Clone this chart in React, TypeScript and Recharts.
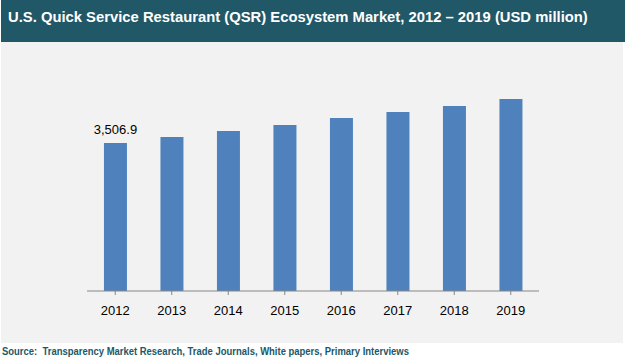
import React from 'react';
import { BarChart, Bar, XAxis, YAxis, LabelList } from 'recharts';

// values (USD million)
const years = ['2012', '2013', '2014', '2015', '2016', '2017', '2018', '2019'];
const marketSize = [3506.9, 3650, 3790, 3935, 4100, 4240, 4385, 4550];
const valueLabels = ['3,506.9', '', '', '', '', '', '', ''];

const data = years.map((year, i) => ({ year, value: marketSize[i], label: valueLabels[i] }));

const TITLE = 'U.S. Quick Service Restaurant (QSR) Ecosystem Market, 2012 \u2013 2019 (USD million)';
const SOURCE = 'Source:\u00a0 Transparency Market Research, Trade Journals, White papers, Primary Interviews';

const App: React.FC = () => {
  React.useEffect(() => {
    document.body.style.margin = '0';
  }, []);

  return (
    <div style={{ position: 'relative', width: 625, height: 361, background: '#fff', overflow: 'hidden', fontFamily: 'Arial, "Liberation Sans", sans-serif' }}>
      {/* title bar */}
      <div style={{ position: 'absolute', left: 1, top: 0, width: 624, height: 42, background: '#215867', color: '#fff', fontWeight: 700, fontSize: 14.8, lineHeight: '34px', paddingLeft: 7, boxSizing: 'border-box', whiteSpace: 'nowrap' }}>
        {TITLE}
      </div>

      {/* chart area */}
      <div style={{ position: 'absolute', left: 1, top: 42, width: 622, height: 301, background: '#f2f2f2' }}>
        <BarChart width={622} height={301} data={data} margin={{ top: 38, right: 84, bottom: 22, left: 86 }} barCategoryGap="30%">
          <XAxis
            dataKey="year"
            height={30}
            axisLine={{ stroke: '#868686' }}
            tickLine={{ stroke: '#868686' }}
            tickSize={4}
            tickMargin={11}
            interval={0}
            tick={{ fill: '#000', fontSize: 13 }}
          />
          <YAxis hide domain={[0, 5000]} />
          <Bar dataKey="value" fill="#4f81bd" isAnimationActive={false}>
            <LabelList dataKey="label" position="top" offset={9} fill="#000" fontSize={13} />
          </Bar>
        </BarChart>
      </div>

      {/* source line, condensed like the original narrow face */}
      <div style={{ position: 'absolute', left: 2, top: 345, fontFamily: '"Liberation Sans", Arial, sans-serif', fontWeight: 700, fontSize: 11, color: '#215867', whiteSpace: 'nowrap', transform: 'scaleX(0.86)', transformOrigin: 'left center' }}>
        {SOURCE}
      </div>
    </div>
  );
};

export default App;
